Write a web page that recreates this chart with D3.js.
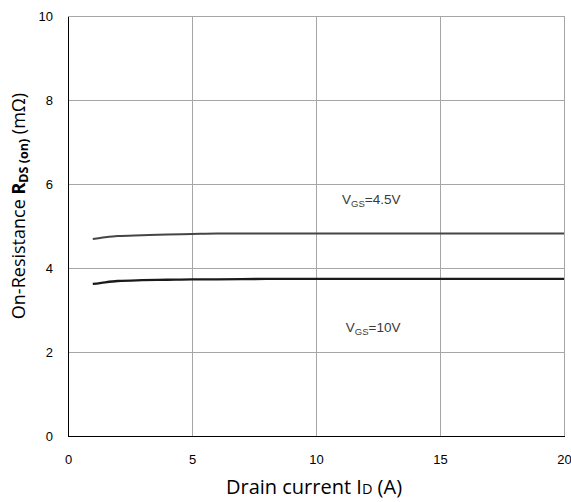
<!DOCTYPE html>
<html><head><meta charset="utf-8">
<script src="https://cdn.jsdelivr.net/npm/d3@7"></script>
<style>body{margin:0;background:#fff}svg{display:block}</style>
</head><body>
<svg id="c" width="571" height="502"></svg>
<script>
const xTicks = [0, 5, 10, 15, 20];
const yTicks = [0, 2, 4, 6, 8, 10];
const current = [1, 1.5, 2, 3, 4, 5, 6, 8, 10, 12, 15, 20];
const r45 = [4.69, 4.73, 4.76, 4.78, 4.80, 4.81, 4.82, 4.82, 4.82, 4.82, 4.82, 4.82];
const r10 = [3.62, 3.66, 3.69, 3.71, 3.72, 3.73, 3.73, 3.74, 3.74, 3.74, 3.74, 3.74];
const seriesLabels = [{sub:"GS", rest:"=4.5V", x:11.05, y:5.62}, {sub:"GS", rest:"=10V", x:11.2, y:2.57}];

const svg = d3.select("#c");
const L = 68, R = 564, T = 16, B = 436;
const x = d3.scaleLinear().domain([0, 20]).range([L, R]);
const y = d3.scaleLinear().domain([0, 10]).range([B, T]);

// grid
svg.append("g").selectAll("line").data(xTicks.filter(d => d > 0)).join("line")
  .attr("x1", d => x(d)).attr("x2", d => x(d)).attr("y1", T).attr("y2", B)
  .attr("stroke", "#a6a6a6").attr("stroke-width", 1).attr("shape-rendering", "crispEdges");
svg.append("g").selectAll("line").data(yTicks.filter(d => d > 0)).join("line")
  .attr("x1", L).attr("x2", R).attr("y1", d => y(d)).attr("y2", d => y(d))
  .attr("stroke", "#a6a6a6").attr("stroke-width", 1).attr("shape-rendering", "crispEdges");

// axes
const xa = svg.append("g").attr("transform", `translate(0,${B})`)
  .call(d3.axisBottom(x).tickValues(xTicks).tickSize(0).tickPadding(19));
xa.select(".domain").attr("stroke", "#000").attr("shape-rendering", "crispEdges");
xa.selectAll("text").attr("font-family", "Liberation Sans, Arial, sans-serif").attr("font-size", 13).attr("fill", "#000");
const ya = svg.append("g").attr("transform", `translate(${L},0)`)
  .call(d3.axisLeft(y).tickValues(yTicks).tickSize(0).tickPadding(15));
ya.select(".domain").attr("stroke", "#000").attr("shape-rendering", "crispEdges");
ya.selectAll("text").attr("font-family", "Liberation Sans, Arial, sans-serif").attr("font-size", 13).attr("fill", "#000");

// lines
const line = d3.line().x(d => x(d[0])).y(d => y(d[1])).curve(d3.curveMonotoneX);
svg.append("path").datum(current.map((c, i) => [c, r45[i]])).attr("d", line)
  .attr("fill", "none").attr("stroke", "#454545").attr("stroke-width", 2);
svg.append("path").datum(current.map((c, i) => [c, r10[i]])).attr("d", line)
  .attr("fill", "none").attr("stroke", "#1a1a1a").attr("stroke-width", 2.3);

// series labels
seriesLabels.forEach(s => {
  const t = svg.append("text").attr("x", x(s.x)).attr("y", y(s.y) + 4)
    .attr("font-family", "Liberation Sans, Arial, sans-serif").attr("font-size", 13.5).attr("fill", "#3a3a3a");
  t.append("tspan").text("V");
  t.append("tspan").attr("font-size", 9.5).attr("dy", 3).text(s.sub);
  t.append("tspan").attr("dy", -3).text(s.rest);
});

// axis titles
const xt = svg.append("text").attr("x", 314).attr("y", 494).attr("text-anchor", "middle")
  .attr("font-family", "Open Sans, sans-serif").attr("font-size", 20).attr("fill", "#000");
xt.append("tspan").text("Drain current I");
xt.append("tspan").attr("font-size", 14.5).text("D");
xt.append("tspan").text(" (A)");

const yt = svg.append("text").attr("transform", `translate(25,206) rotate(-90)`).attr("text-anchor", "middle")
  .attr("font-family", "Open Sans, sans-serif").attr("font-size", 18).attr("fill", "#000");
yt.append("tspan").text("On-Resistance ");
yt.append("tspan").attr("font-weight", "bold").text("R");
yt.append("tspan").attr("font-weight", "bold").attr("font-size", 12.5).attr("dy", 3).text("DS (on)");
yt.append("tspan").attr("dy", -3).text(" (m\u03A9)");
</script>
</body></html>
